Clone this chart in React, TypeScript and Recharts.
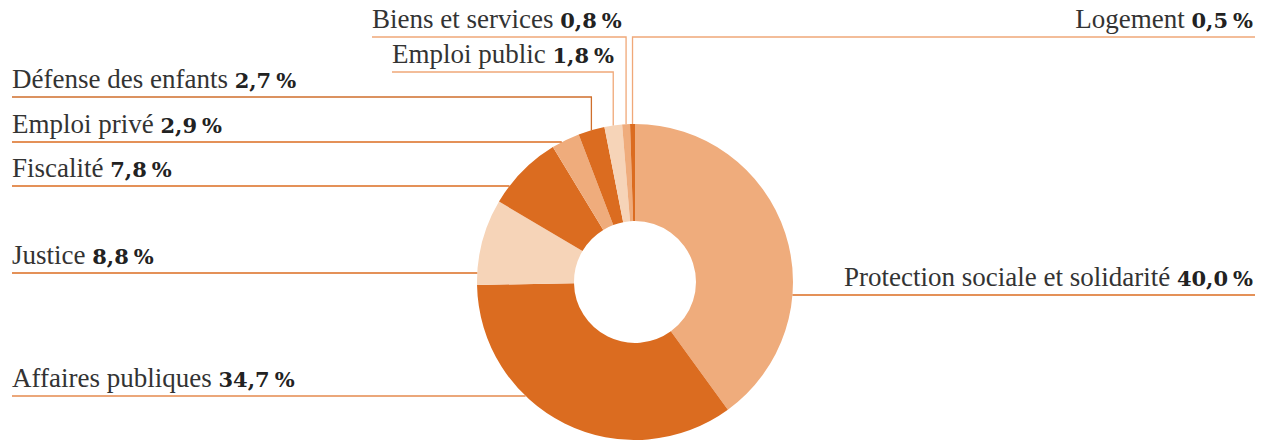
import { PieChart, Pie, Cell } from 'recharts';

// Catégories dans l'ordre du camembert (sens horaire depuis midi)
const categories = [
  'Protection sociale et solidarité',
  'Affaires publiques',
  'Justice',
  'Fiscalité',
  'Emploi privé',
  'Défense des enfants',
  'Emploi public',
  'Biens et services',
  'Logement',
];
const shares = [40.0, 34.7, 8.8, 7.8, 2.9, 2.7, 1.8, 0.8, 0.5];

const DARK = '#db6c20';
const MID = '#efac7c';
const PALE = '#f6d4b8';
const sliceColors = [MID, DARK, PALE, DARK, MID, DARK, PALE, MID, DARK];

// placement des étiquettes : côté, hauteur du trait, départ du trait
type LabelPos = { side: 'left' | 'right'; y: number; mode: 'h' | 'v'; x0: number; line: string };
const labelPos: LabelPos[] = [
  { side: 'right', y: 295, mode: 'h', x0: 1255, line: DARK },
  { side: 'left', y: 396, mode: 'h', x0: 12, line: '#e58a4e' },
  { side: 'left', y: 273, mode: 'h', x0: 12, line: DARK },
  { side: 'left', y: 186, mode: 'h', x0: 12, line: DARK },
  { side: 'left', y: 142, mode: 'h', x0: 12, line: DARK },
  { side: 'left', y: 97, mode: 'v', x0: 12, line: '#cf6f2c' },
  { side: 'left', y: 72, mode: 'v', x0: 392, line: '#f0a878' },
  { side: 'left', y: 37, mode: 'v', x0: 372, line: '#f0a878' },
  { side: 'right', y: 37, mode: 'v', x0: 1255, line: '#f0a878' },
];

const data = categories.map((name, i) => ({ name, value: shares[i] }));

const RAD = Math.PI / 180;
const fmt = (v: number) => v.toFixed(1).replace('.', ',');

const nameStyle = { fontFamily: '"Liberation Serif", "Times New Roman", serif', fontSize: 27 };
const numStyle = { fontFamily: '"DejaVu Serif", serif', fontWeight: 700, fontSize: 21 };

function renderLabel(props: any) {
  const { cx, cy, midAngle, outerRadius, index, value, name } = props;
  const pos = labelPos[index];
  let d = '';
  if (pos.mode === 'h') {
    const dy = pos.y - cy;
    const dx = Math.sqrt(Math.max(outerRadius * outerRadius - dy * dy, 0));
    const ex = pos.side === 'left' ? cx - dx : cx + dx;
    d = `M${pos.x0},${pos.y}H${ex}`;
  } else {
    const vx = cx + outerRadius * Math.cos(-midAngle * RAD);
    const vy = cy + outerRadius * Math.sin(-midAngle * RAD);
    d = `M${pos.x0},${pos.y}H${vx}V${vy}`;
  }
  const tx = pos.side === 'left' ? pos.x0 : pos.x0 - 2;
  return (
    <g key={`lbl-${index}`}>
      <path d={d} stroke={pos.line} strokeWidth={1.3} fill="none" />
      <text
        x={tx}
        y={pos.y - 9}
        textAnchor={pos.side === 'left' ? 'start' : 'end'}
        fill="#333"
        style={nameStyle}
      >
        <tspan style={nameStyle}>{name} </tspan>
        <tspan style={numStyle} fill="#222">
          {fmt(value)}
        </tspan>
        <tspan dx={5} style={numStyle} fill="#222">
          %
        </tspan>
      </text>
    </g>
  );
}

export default function App() {
  return (
    <div style={{ position: 'absolute', left: 0, top: 0, background: '#fff' }}>
      <PieChart width={1267} height={440} margin={{ top: 0, right: 0, bottom: 0, left: 0 }}>
        <Pie
          data={data}
          dataKey="value"
          nameKey="name"
          cx={635}
          cy={282}
          innerRadius={61}
          outerRadius={158}
          startAngle={90}
          endAngle={-270}
          stroke="none"
          label={renderLabel}
          labelLine={false}
          isAnimationActive={false}
        >
          {data.map((entry, i) => (
            <Cell key={`cell-${entry.name}`} fill={sliceColors[i]} />
          ))}
        </Pie>
      </PieChart>
    </div>
  );
}
